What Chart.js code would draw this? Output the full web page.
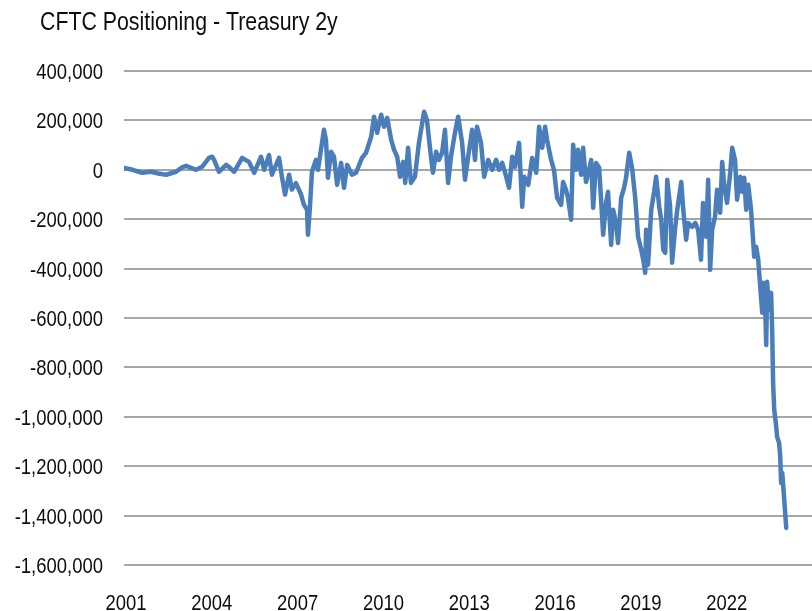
<!DOCTYPE html>
<html>
<head>
<meta charset="utf-8">
<script src="https://cdn.jsdelivr.net/npm/chart.js@4/dist/chart.umd.min.js"></script>
<style>
  html, body { margin: 0; padding: 0; background: #fff; overflow: hidden; }
  #wrap { width: 812px; height: 611px; }
</style>
</head>
<body>
<div id="wrap"><canvas id="cftcChart" width="812" height="611"></canvas></div>
<script>
const chartTitle = 'CFTC Positioning - Treasury 2y'
const yearTicks = [2001, 2004, 2007, 2010, 2013, 2016, 2019, 2022]
const valueTicks = [400000, 200000, 0, -200000, -400000, -600000, -800000, -1000000, -1200000, -1400000, -1600000]

// dates as decimal years, net positions in contracts
const years = [
  2001.00, 2001.30, 2001.63, 2001.95, 2002.20, 2002.47, 2002.82, 2003.03, 2003.17, 2003.52,
  2003.73, 2003.97, 2004.08, 2004.15, 2004.32, 2004.57, 2004.67, 2004.85, 2005.13, 2005.37,
  2005.55, 2005.79, 2005.90, 2006.07, 2006.17, 2006.42, 2006.52, 2006.63, 2006.77, 2006.87,
  2007.01, 2007.19, 2007.29, 2007.40, 2007.43, 2007.50, 2007.57, 2007.71, 2007.78, 2007.99,
  2008.06, 2008.13, 2008.24, 2008.34, 2008.45, 2008.59, 2008.69, 2008.80, 2008.97, 2009.11,
  2009.32, 2009.46, 2009.64, 2009.74, 2009.85, 2009.99, 2010.09, 2010.20, 2010.34, 2010.44,
  2010.55, 2010.65, 2010.76, 2010.83, 2010.93, 2011.03, 2011.17, 2011.31, 2011.49, 2011.59,
  2011.73, 2011.80, 2011.91, 2012.01, 2012.12, 2012.22, 2012.33, 2012.43, 2012.57, 2012.68,
  2012.82, 2012.92, 2013.03, 2013.17, 2013.27, 2013.34, 2013.48, 2013.59, 2013.73, 2013.87,
  2014.01, 2014.11, 2014.22, 2014.36, 2014.46, 2014.57, 2014.67, 2014.81, 2014.92, 2014.99,
  2015.13, 2015.27, 2015.41, 2015.51, 2015.62, 2015.72, 2015.79, 2015.93, 2016.03, 2016.14,
  2016.28, 2016.35, 2016.45, 2016.52, 2016.63, 2016.70, 2016.80, 2016.87, 2016.98, 2017.05,
  2017.15, 2017.26, 2017.33, 2017.40, 2017.50, 2017.61, 2017.75, 2017.85, 2017.92, 2018.03,
  2018.10, 2018.20, 2018.27, 2018.38, 2018.48, 2018.55, 2018.66, 2018.76, 2018.87, 2018.97,
  2019.08, 2019.15, 2019.22, 2019.25, 2019.32, 2019.43, 2019.53, 2019.60, 2019.71, 2019.78,
  2019.85, 2019.92, 2019.99, 2020.09, 2020.16, 2020.27, 2020.34, 2020.48, 2020.55, 2020.65,
  2020.72, 2020.86, 2020.97, 2021.07, 2021.17, 2021.24, 2021.35, 2021.42, 2021.49, 2021.56,
  2021.66, 2021.73, 2021.84, 2021.91, 2021.98, 2022.08, 2022.19, 2022.26, 2022.36, 2022.43,
  2022.54, 2022.61, 2022.68, 2022.75, 2022.82, 2022.92, 2022.96, 2023.03, 2023.10, 2023.17,
  2023.24, 2023.31, 2023.34, 2023.41, 2023.45, 2023.48, 2023.55, 2023.62, 2023.66, 2023.69,
  2023.73, 2023.80, 2023.83, 2023.90, 2023.94, 2023.97, 2024.01, 2024.08, 2024.15
]
const netPositions = [
  8000, 0, -12000, -8000, -15000, -20000, -8000, 10000, 16000, 0,
  12000, 48000, 53000, 40000, -8000, 20000, 12000, -8000, 48000, 32000,
  -12000, 53000, 0, 60000, -20000, 48000, -28000, -100000, -20000, -80000,
  -54000, -100000, -142000, -162000, -263000, -150000, -8000, 40000, 0, 162000,
  121000, -32000, 73000, 53000, -61000, 28000, -73000, 20000, -20000, -12000,
  48000, 69000, 134000, 215000, 150000, 223000, 174000, 210000, 121000, 81000,
  53000, -28000, 32000, -53000, 89000, -53000, -28000, 109000, 235000, 202000,
  53000, -12000, 73000, 40000, 69000, 162000, -53000, 53000, 150000, 215000,
  109000, -40000, 53000, 162000, 40000, 174000, 109000, -28000, 40000, 0,
  40000, 0, 28000, -28000, -73000, 53000, 12000, 109000, -150000, -28000,
  -61000, 48000, -12000, 174000, 89000, 174000, 121000, 40000, 0, -113000,
  -142000, -49000, -81000, -113000, -202000, 101000, 0, 81000, -20000, 89000,
  -49000, 0, 40000, -154000, 28000, 8000, -263000, -134000, -89000, -304000,
  -162000, -215000, -296000, -113000, -73000, -32000, 69000, 8000, -113000, -271000,
  -324000, -364000, -417000, -243000, -384000, -162000, -89000, -28000, -150000, -202000,
  -324000, -336000, -40000, -150000, -376000, -231000, -162000, -49000, -162000, -283000,
  -215000, -231000, -215000, -243000, -364000, -134000, -271000, -40000, -405000, -243000,
  -190000, -81000, -174000, 32000, -61000, -134000, -12000, 89000, 40000, -121000,
  -28000, -89000, -32000, -162000, -61000, -162000, -231000, -352000, -312000, -364000,
  -473000, -579000, -457000, -538000, -709000, -453000, -567000, -498000, -660000, -863000,
  -972000, -1040000, -1081000, -1106000, -1162000, -1268000, -1227000, -1337000, -1450000
]

const fontFamily = "'Liberation Sans', Arial, sans-serif"
const textColor = '#0d0d0d'

// the source uses a narrow face; squeeze Liberation Sans horizontally to match
function narrowText(ctx, text, x, y, align, size, squeeze) {
  ctx.save()
  ctx.font = size + 'px ' + fontFamily
  ctx.fillStyle = textColor
  ctx.textAlign = align
  ctx.textBaseline = 'alphabetic'
  ctx.translate(x, y)
  ctx.scale(squeeze, 1)
  ctx.fillText(text, 0, 0)
  ctx.restore()
}

const narrowLabels = {
  id: 'narrowLabels',
  afterDraw(chart) {
    const ctx = chart.ctx
    const { x: xScale, y: yScale } = chart.scales
    const area = chart.chartArea
    narrowText(ctx, chartTitle, 40, 30, 'left', 26, 0.82)
    yScale.ticks.forEach((t) => {
      const py = yScale.getPixelForValue(t.value)
      narrowText(ctx, Number(t.value).toLocaleString('en-US'), area.left - 21, py + 8, 'right', 22, 0.84)
    })
    xScale.ticks.forEach((t) => {
      const px = xScale.getPixelForValue(t.value)
      narrowText(ctx, String(t.value), px + 2, area.bottom + 45, 'center', 22, 0.84)
    })
  },
}

const points = years.map((yr, i) => ({ x: yr, y: netPositions[i] }))

const ctx = document.getElementById('cftcChart').getContext('2d')
new Chart(ctx, {
  type: 'line',
  data: {
    datasets: [
      {
        label: 'Net position',
        data: points,
        borderColor: '#4A7EBB',
        borderWidth: 4.5,
        borderJoinStyle: 'round',
        borderCapStyle: 'round',
        pointRadius: 0,
        tension: 0,
        fill: false,
      },
    ],
  },
  options: {
    responsive: false,
    animation: false,
    devicePixelRatio: 1,
    layout: { padding: { top: 71, right: 0, bottom: 0, left: 0 } },
    plugins: {
      legend: { display: false },
      title: { display: false },
      tooltip: { enabled: false },
    },
    scales: {
      x: {
        type: 'linear',
        min: 2001,
        max: 2025.05,
        grid: { display: false, drawTicks: false, tickLength: 0 },
        border: { display: false },
        afterBuildTicks: (scale) => {
          scale.ticks = yearTicks.map((v) => ({ value: v }))
        },
        afterFit: (scale) => {
          scale.height = 46
        },
        ticks: { display: false, autoSkip: false, maxRotation: 0 },
      },
      y: {
        min: -1600000,
        max: 400000,
        grid: { color: '#A6A6A6', lineWidth: 2, drawTicks: false },
        border: { display: false },
        afterBuildTicks: (scale) => {
          scale.ticks = valueTicks.map((v) => ({ value: v }))
        },
        afterFit: (scale) => {
          scale.width = 124
        },
        ticks: { display: false },
      },
    },
  },
  plugins: [narrowLabels],
})
</script>
</body>
</html>
